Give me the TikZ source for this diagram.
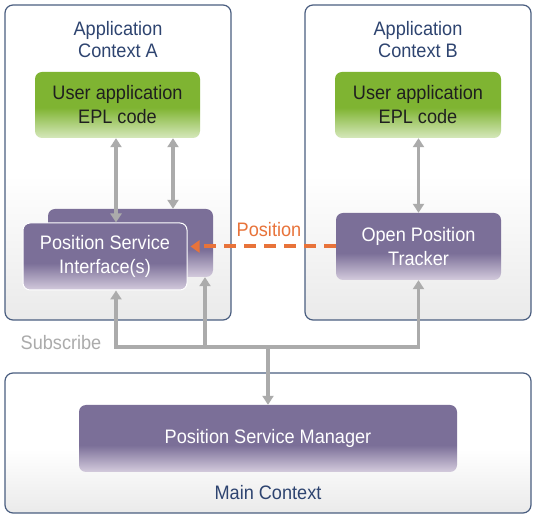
\documentclass[tikz,border=0pt]{standalone}
\usepackage{fontspec}
\setmainfont{Liberation Sans}[FakeStretch=0.93]
\usetikzlibrary{arrows.meta,calc}
\definecolor{frame}{HTML}{4A5E80}
\definecolor{titleblue}{HTML}{2E4470}
\definecolor{greentop}{HTML}{7FB432}
\definecolor{greenbot}{HTML}{D6E8BC}
\definecolor{purtop}{HTML}{7B6F98}
\definecolor{purbot}{HTML}{D4CBDD}
\definecolor{ctxbot}{HTML}{EAEAEA}
\definecolor{garr}{HTML}{ABABAB}
\definecolor{orng}{HTML}{E8733A}
\pgfdeclareverticalshading{ctxshade}{100bp}{color(0bp)=(ctxbot); color(25bp)=(ctxbot); color(48bp)=(white); color(100bp)=(white)}
\pgfdeclareverticalshading{greenshade}{100bp}{color(0bp)=(greenbot); color(25bp)=(greenbot); color(48bp)=(greentop); color(100bp)=(greentop)}
\pgfdeclareverticalshading{purshade}{100bp}{color(0bp)=(purbot); color(25bp)=(purbot); color(45bp)=(purtop); color(100bp)=(purtop)}
\tikzset{
  ctx/.style={draw=frame, line width=1.2pt, rounded corners=8pt, shading=ctxshade},
  greenbox/.style={rounded corners=7pt, shading=greenshade, text=black!88, align=center,
    font=\fontsize{19.5}{24}\selectfont, inner sep=0pt},
  purbox/.style={rounded corners=7pt, shading=purshade, text=white, align=center,
    font=\fontsize{19.5}{24}\selectfont, inner sep=0pt},
  ttl/.style={text=titleblue, align=center, font=\fontsize{19.5}{22}\selectfont},
  garrow/.style={draw=garr, line width=3.6pt, arrows={-{Triangle[width=11pt,length=9pt]}}},
  gboth/.style={draw=garr, line width=3.6pt, arrows={{Triangle[width=11pt,length=9pt]}-{Triangle[width=11pt,length=9pt]}}},
}
\begin{document}
\begin{tikzpicture}[x=1pt,y=-1pt]
\useasboundingbox (0,0) rectangle (536,518);
\fill[white] (0,0) rectangle (536,518);
% contexts
\node[ctx, minimum width=226pt, minimum height=315pt] (ctxA) at (118,162.5) {};
\node[ctx, minimum width=226pt, minimum height=315pt] (ctxB) at (418,162.5) {};
\node[ctx, minimum width=526pt, minimum height=140pt] (main) at (268,443) {};
% titles
\node[ttl] (tA) at (118,40) {Application\\Context A};
\node[ttl] (tB) at (418,40) {Application\\Context B};
\node[ttl] (tM) at (268,493) {Main Context};
% boxes
\node[greenbox, minimum width=165pt, minimum height=66pt] (uaA) at (117.5,105) {User application\\EPL code};
\node[greenbox, minimum width=166pt, minimum height=66pt] (uaB) at (418,105) {User application\\EPL code};
\node[purbox, minimum width=165pt, minimum height=68pt] (psiback) at (130.5,243) {};
\node[purbox, draw=white, line width=1pt, minimum width=164pt, minimum height=67pt] (psi) at (105,256.5) {Position Service\\Interface(s)};
\node[purbox, minimum width=165pt, minimum height=67pt] (opt) at (418.5,246.5) {Open Position\\Tracker};
\node[purbox, minimum width=378pt, minimum height=67pt] (psm) at (268,438.5) {Position Service Manager};
% vertical arrows
\draw[gboth] ([xshift=-1.5pt]uaA.south) -- ([xshift=-1.5pt]uaA.south |- psi.north);
\draw[gboth] ([xshift=55.5pt]uaA.south) -- ([xshift=55.5pt]uaA.south |- psiback.north);
\draw[gboth] ([xshift=0.5pt]uaB.south) -- ([xshift=0.5pt]uaB.south |- opt.north);
% subscribe bus
\coordinate (b1) at (116,347);
\coordinate (b2) at (205,347);
\coordinate (b3) at (418.5,347);
\coordinate (bm) at (268,347);
\draw[gboth, line join=miter] ([xshift=11pt]psi.south) -- (b1) -- (b3) -- (opt.south);
\draw[garrow] (b2) -- (b2 |- psiback.south);
\draw[garrow] (bm) -- (psm.north);
\node[text=garr, font=\fontsize{19.5}{22}\selectfont] (sub) at (61,343) {Subscribe};
% position
\draw[draw=orng, line width=4pt, dash pattern=on 12pt off 8pt, arrows={-{Triangle[width=12pt,length=9pt]}}]
  (opt.west) -- ([xshift=3pt]psi.east |- opt.west);
\node[text=orng, font=\fontsize{19.5}{22}\selectfont] (poslbl) at (269,230) {Position};
\end{tikzpicture}
\end{document}
